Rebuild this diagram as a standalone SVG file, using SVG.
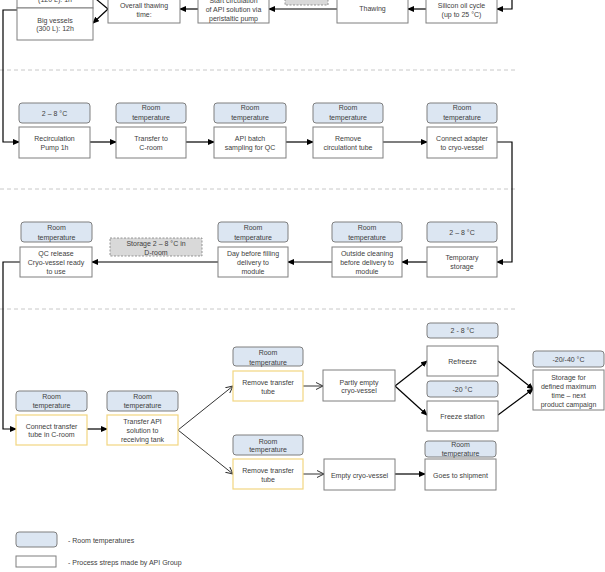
<svg xmlns="http://www.w3.org/2000/svg" width="605" height="572" viewBox="0 0 605 572">
<defs>
<style>
text{font-family:"Liberation Sans",Arial,sans-serif;font-size:7px;fill:#404040;text-anchor:middle}
.pill{fill:#DCE6F2;stroke:#7F7F7F;stroke-width:1}
.box{fill:#FFFFFF;stroke:#7F7F7F;stroke-width:1}
.ybox{fill:#FFFFFF;stroke:#F2D680;stroke-width:1.2}
.dbox{fill:#D9D9D9;stroke:#7F7F7F;stroke-width:0.8;stroke-dasharray:2 1.5}
.sep{stroke:#C8C8C8;stroke-width:1;stroke-dasharray:4 3;fill:none}
.c{fill:none;stroke:#000;stroke-width:1.2}
.ca{fill:none;stroke:#000;stroke-width:1.2;marker-end:url(#ah)}
.cv{fill:none;stroke:#333;stroke-width:1;marker-end:url(#av)}
.leg{text-anchor:start}
</style>
<marker id="ah" markerWidth="7" markerHeight="6" refX="6" refY="3" orient="auto" markerUnits="userSpaceOnUse"><path d="M0,0 L7,3 L0,6 Z" fill="#000"/></marker>
<marker id="av" markerWidth="8" markerHeight="8" refX="7" refY="4" orient="auto" markerUnits="userSpaceOnUse"><path d="M0,0.5 L7,4 L0,7.5" fill="none" stroke="#333" stroke-width="1"/></marker>
</defs>
<rect width="605" height="572" fill="#FFFFFF"/>
<g id="separators">
<line class="sep" x1="0" y1="70" x2="518" y2="70"/>
<line class="sep" x1="0" y1="189" x2="518" y2="189"/>
<line class="sep" x1="0" y1="309" x2="518" y2="309"/>
</g>
<g id="connectors">
<polyline class="ca" points="512,0 512,9 497,9"/>
<line class="ca" x1="426" y1="9" x2="408" y2="9"/>
<line class="ca" x1="337" y1="9" x2="269" y2="9"/>
<line class="ca" x1="198" y1="9" x2="180" y2="9"/>
<line class="ca" x1="108" y1="9" x2="93" y2="23"/>
<line class="c" x1="108" y1="9" x2="96" y2="-1"/>
<polyline class="ca" points="55,10 3,10 3,142 19,142"/>
<line class="ca" x1="90" y1="142" x2="116" y2="142"/>
<line class="ca" x1="186" y1="142" x2="214" y2="142"/>
<line class="ca" x1="286" y1="142" x2="313" y2="142"/>
<line class="ca" x1="383" y1="142" x2="427" y2="142"/>
<polyline class="ca" points="497,142 512,142 512,262 497,262"/>
<line class="ca" x1="427" y1="262" x2="402" y2="262"/>
<line class="ca" x1="332" y1="262" x2="288" y2="262"/>
<line class="ca" x1="218" y1="262" x2="92" y2="262"/>
<polyline class="ca" points="20,262 3,262 3,429 16,429"/>
<line class="ca" x1="87" y1="429" x2="107" y2="429"/>
<line class="cv" x1="178" y1="430" x2="233" y2="386"/>
<line class="cv" x1="178" y1="430" x2="233" y2="474"/>
<line class="cv" x1="303" y1="386" x2="323" y2="386"/>
<line class="ca" x1="395" y1="386" x2="427" y2="361"/>
<line class="ca" x1="395" y1="386" x2="427" y2="415"/>
<line class="ca" x1="498" y1="361" x2="533" y2="389"/>
<line class="ca" x1="498" y1="415" x2="533" y2="389"/>
<line class="cv" x1="303" y1="474" x2="324" y2="474"/>
<line class="ca" x1="395" y1="474" x2="425" y2="474"/>
</g>
<g id="n-small-vessels"><rect class="box" x="17" y="-20" width="76" height="28"/><text x="55" y="2">(120 L): 1h</text></g>
<g id="n-big-vessels"><rect class="box" x="17" y="8" width="76" height="32"/><text x="55" y="23">Big vessels</text><text x="55" y="31">(300 L): 12h</text></g>
<g id="n-overall"><rect class="box" x="108" y="-10" width="72" height="33"/><text x="144" y="7.5">Overall thawing</text><text x="144" y="17">time:</text></g>
<g id="n-start-circ"><rect class="box" x="198" y="-10" width="71" height="33"/><text x="233.5" y="2.5">Start circulation</text><text x="233.5" y="11.5">of API solution via</text><text x="233.5" y="20.5">peristaltic pump</text></g>
<g id="n-storage-top"><rect class="dbox" x="285" y="-10" width="43" height="15"/></g>
<g id="n-thawing"><rect class="box" x="337" y="-10" width="71" height="33"/><text x="372.5" y="11">Thawing</text></g>
<g id="n-silicon"><rect class="box" x="426" y="-10" width="71" height="33"/><text x="461.5" y="7.5">Silicon oil cycle</text><text x="461.5" y="17">(up to 25 °C)</text></g>

<g id="n-recirc"><rect class="pill" x="19" y="103" width="71" height="20" rx="3"/><text x="54.5" y="116">2 – 8 °C</text><rect class="box" x="19" y="127" width="71" height="31"/><text x="54.5" y="141">Recirculation</text><text x="54.5" y="150">Pump 1h</text></g>
<g id="n-transfer-c"><rect class="pill" x="116" y="103" width="70" height="20" rx="3"/><text x="151" y="110">Room</text><text x="151" y="119.5">temperature</text><rect class="box" x="116" y="127" width="70" height="31"/><text x="151" y="141">Transfer to</text><text x="151" y="150">C-room</text></g>
<g id="n-api-batch"><rect class="pill" x="214" y="103" width="72" height="20" rx="3"/><text x="250" y="110">Room</text><text x="250" y="119.5">temperature</text><rect class="box" x="214" y="127" width="72" height="31"/><text x="250" y="141">API batch</text><text x="250" y="150">sampling for QC</text></g>
<g id="n-remove-circ"><rect class="pill" x="313" y="103" width="70" height="20" rx="3"/><text x="348" y="110">Room</text><text x="348" y="119.5">temperature</text><rect class="box" x="313" y="127" width="70" height="31"/><text x="348" y="141">Remove</text><text x="348" y="150">circulationt tube</text></g>
<g id="n-connect-adapter"><rect class="pill" x="427" y="103" width="70" height="20" rx="3"/><text x="462" y="110">Room</text><text x="462" y="119.5">temperature</text><rect class="box" x="427" y="127" width="70" height="31"/><text x="462" y="141">Connect adapter</text><text x="462" y="150">to cryo-vessel</text></g>

<g id="n-qc-release"><rect class="pill" x="21" y="222" width="71" height="20" rx="3"/><text x="56.5" y="230">Room</text><text x="56.5" y="239.5">temperature</text><rect class="box" x="20" y="247" width="72" height="30"/><text x="56" y="255.5">QC release</text><text x="56" y="264.5">Cryo-vessel ready</text><text x="56" y="273.5">to use</text></g>
<g id="n-storage-d"><rect class="dbox" x="110" y="238" width="92" height="18"/><text x="156" y="246">Storage 2 – 8 °C in</text><text x="156" y="254.5">D-room</text></g>
<g id="n-day-before"><rect class="pill" x="218" y="222" width="70" height="20" rx="3"/><text x="253" y="230">Room</text><text x="253" y="239.5">temperature</text><rect class="box" x="218" y="247" width="70" height="30"/><text x="253" y="255.5">Day before filling</text><text x="253" y="264.5">delivery to</text><text x="253" y="273.5">module</text></g>
<g id="n-outside-clean"><rect class="pill" x="332" y="222" width="70" height="20" rx="3"/><text x="367" y="230">Room</text><text x="367" y="239.5">temperature</text><rect class="box" x="332" y="247" width="70" height="30"/><text x="367" y="255.5">Outside cleaning</text><text x="367" y="264.5">before delivery to</text><text x="367" y="273.5">module</text></g>
<g id="n-temp-storage"><rect class="pill" x="427" y="222" width="70" height="20" rx="3"/><text x="462" y="234.5">2 – 8 °C</text><rect class="box" x="427" y="247" width="70" height="30"/><text x="462" y="260">Temporary</text><text x="462" y="269">storage</text></g>

<g id="n-connect-transfer"><rect class="pill" x="16" y="391" width="71" height="20" rx="3"/><text x="51.5" y="398.8">Room</text><text x="51.5" y="408">temperature</text><rect class="ybox" x="16" y="415" width="71" height="30"/><text x="51.5" y="428.5">Connect transfer</text><text x="51.5" y="437">tube in C-room</text></g>
<g id="n-transfer-api"><rect class="pill" x="107" y="391" width="71" height="20" rx="3"/><text x="142.5" y="398.8">Room</text><text x="142.5" y="408">temperature</text><rect class="ybox" x="107" y="415" width="71" height="30"/><text x="142.5" y="423.5">Transfer API</text><text x="142.5" y="432.8">solution to</text><text x="142.5" y="441.8">receiving tank</text></g>
<g id="n-remove-transfer-1"><rect class="pill" x="233" y="347" width="70" height="19" rx="3"/><text x="268" y="355">Room</text><text x="268" y="364.5">temperature</text><rect class="ybox" x="233" y="371" width="70" height="30"/><text x="268" y="384.5">Remove transfer</text><text x="268" y="393.5">tube</text></g>
<g id="n-remove-transfer-2"><rect class="pill" x="233" y="435" width="70" height="20" rx="3"/><text x="268" y="443.5">Room</text><text x="268" y="452">temperature</text><rect class="ybox" x="233" y="459" width="70" height="30"/><text x="268" y="472.8">Remove transfer</text><text x="268" y="481.8">tube</text></g>
<g id="n-partly-empty"><rect class="box" x="323" y="370" width="72" height="31"/><text x="359" y="384.5">Partly empty</text><text x="359" y="392.8">cryo-vessel</text></g>
<g id="n-refreeze"><rect class="pill" x="427" y="323" width="71" height="15" rx="3"/><text x="462.5" y="333">2 - 8 °C</text><rect class="box" x="427" y="346" width="71" height="30"/><text x="462.5" y="364">Refreeze</text></g>
<g id="n-freeze-station"><rect class="pill" x="427" y="381" width="71" height="16" rx="3"/><text x="462.5" y="391.5">-20 °C</text><rect class="box" x="427" y="401" width="71" height="30"/><text x="462.5" y="418.5">Freeze station</text></g>
<g id="n-storage-max"><rect class="pill" x="533" y="351" width="71" height="16" rx="3"/><text x="568.5" y="361.5">-20/-40 °C</text><rect class="box" x="533" y="370" width="71" height="40"/><text x="568.5" y="379.5">Storage for</text><text x="568.5" y="388.8">defined maximum</text><text x="568.5" y="398">time – next</text><text x="568.5" y="407">product campaign</text></g>
<g id="n-empty"><rect class="box" x="324" y="459" width="71" height="31"/><text x="359.5" y="477.5">Empty cryo-vessel</text></g>
<g id="n-shipment"><rect class="pill" x="425" y="441" width="71" height="16" rx="3"/><text x="460.5" y="447">Room</text><text x="460.5" y="456">temperature</text><rect class="box" x="425" y="459" width="71" height="31"/><text x="460.5" y="477.5">Goes to shipment</text></g>

<g id="legend">
<rect class="pill" x="16" y="532" width="41" height="15" rx="3"/>
<text class="leg" x="68" y="542.5">- Room temperatures</text>
<rect class="box" x="16" y="556" width="40" height="11"/>
<text class="leg" x="68" y="565">- Process streps made by API Group</text>
</g>
</svg>
